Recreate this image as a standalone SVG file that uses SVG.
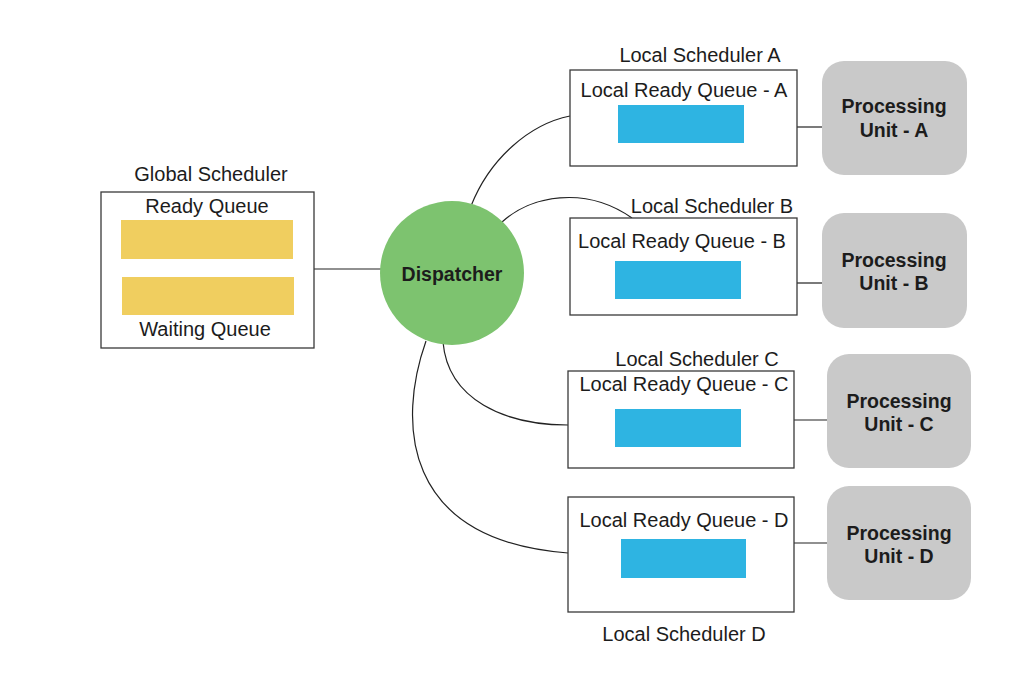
<svg xmlns="http://www.w3.org/2000/svg" width="1016" height="690" viewBox="0 0 1016 690">
<style>
.t{font-family:"Liberation Sans",Arial,sans-serif;font-size:20px;fill:#1c1c1c;text-anchor:middle}
.b{font-family:"Liberation Sans",Arial,sans-serif;font-size:19.5px;font-weight:bold;fill:#1c1c1c;text-anchor:middle}
.box{fill:#fff;stroke:#3a3a3a;stroke-width:1.3}
.yq{fill:#F0CE5F}
.bq{fill:#2EB4E2}
.pu{fill:#C9C9C9}
.c{fill:none;stroke:#222;stroke-width:1.2}
</style>
<rect width="1016" height="690" fill="#fff"/>
<g id="connectors">
<line class="c" x1="314" y1="269" x2="381" y2="269"/>
<path class="c" d="M471,206 C490,158 530,124 570,116"/>
<path class="c" d="M502,222 C530,196 585,185 632,218"/>
<path class="c" d="M443,342 C448,400 505,425 568,425"/>
<path class="c" d="M426,341 C398,420 400,540 568,553"/>
<line class="c" x1="797" y1="127" x2="822" y2="127"/>
<line class="c" x1="797" y1="283" x2="822" y2="283"/>
<line class="c" x1="794" y1="420" x2="827" y2="420"/>
<line class="c" x1="794" y1="543" x2="827" y2="543"/>
</g>
<g id="global-scheduler">
<text class="t" x="211" y="181">Global Scheduler</text>
<rect class="box" x="101" y="192" width="213" height="156"/>
<text class="t" x="207" y="213">Ready Queue</text>
<rect class="yq" x="121" y="220" width="172" height="39"/>
<rect class="yq" x="122" y="277" width="172" height="38"/>
<text class="t" x="205" y="336">Waiting Queue</text>
</g>
<g id="dispatcher">
<circle cx="452" cy="273" r="72" fill="#7DC36F"/>
<text class="b" x="452" y="281">Dispatcher</text>
</g>
<g id="local-scheduler-a">
<text class="t" x="700" y="62">Local Scheduler A</text>
<rect class="box" x="570" y="70" width="227" height="96"/>
<text class="t" x="684" y="97">Local Ready Queue - A</text>
<rect class="bq" x="618" y="105" width="126" height="38"/>
</g>
<g id="local-scheduler-b">
<text class="t" x="712" y="213">Local Scheduler B</text>
<rect class="box" x="570" y="218" width="227" height="97"/>
<text class="t" x="682" y="248">Local Ready Queue - B</text>
<rect class="bq" x="615" y="261" width="126" height="38"/>
</g>
<g id="local-scheduler-c">
<text class="t" x="697" y="366">Local Scheduler C</text>
<rect class="box" x="568" y="371" width="226" height="97"/>
<text class="t" x="684" y="391">Local Ready Queue - C</text>
<rect class="bq" x="615" y="409" width="126" height="38"/>
</g>
<g id="local-scheduler-d">
<rect class="box" x="568" y="497" width="226" height="115"/>
<text class="t" x="684" y="527">Local Ready Queue - D</text>
<rect class="bq" x="621" y="539" width="125" height="39"/>
<text class="t" x="684" y="641">Local Scheduler D</text>
</g>
<g id="pu-a">
<rect class="pu" x="822" y="61" width="145" height="114" rx="22"/>
<text class="b" x="894" y="113">Processing</text>
<text class="b" x="894" y="137">Unit - A</text>
</g>
<g id="pu-b">
<rect class="pu" x="822" y="213" width="145" height="115" rx="22"/>
<text class="b" x="894" y="267">Processing</text>
<text class="b" x="894" y="290">Unit - B</text>
</g>
<g id="pu-c">
<rect class="pu" x="827" y="354" width="144" height="114" rx="22"/>
<text class="b" x="899" y="408">Processing</text>
<text class="b" x="899" y="431">Unit - C</text>
</g>
<g id="pu-d">
<rect class="pu" x="827" y="486" width="144" height="114" rx="22"/>
<text class="b" x="899" y="540">Processing</text>
<text class="b" x="899" y="563">Unit - D</text>
</g>
</svg>
